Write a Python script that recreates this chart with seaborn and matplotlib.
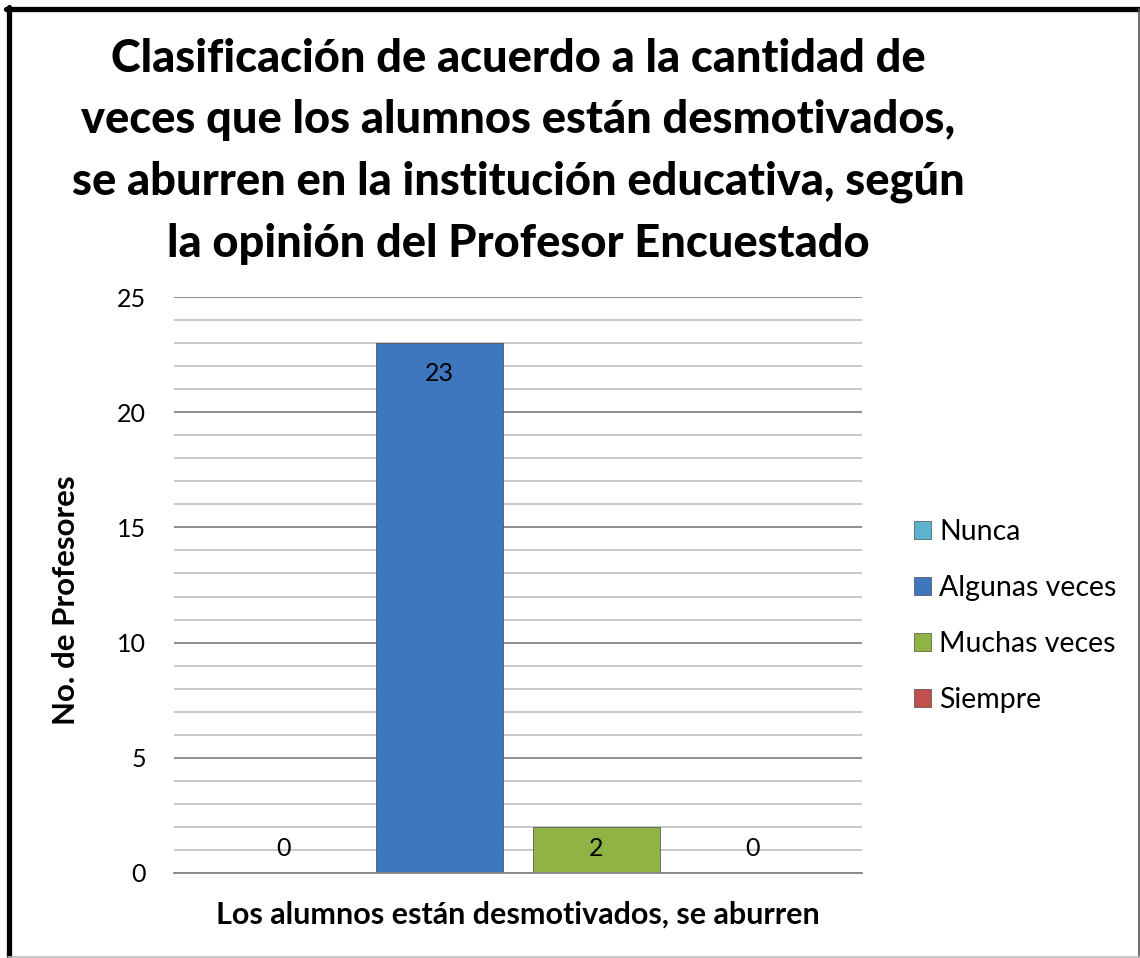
import pandas as pd
import matplotlib
matplotlib.use("Agg")
import matplotlib.pyplot as plt
import seaborn as sns
from matplotlib.ticker import MultipleLocator
from matplotlib.transforms import offset_copy
from matplotlib.lines import Line2D

# data
categoria = ["Los alumnos están desmotivados, se aburren"]
series = ["Nunca", "Algunas veces", "Muchas veces", "Siempre"]
valores = [0, 23, 2, 0]
colores = ["#5BB3CC", "#3F77BE", "#8FB443", "#C0504D"]

titulo = ("Clasificación de acuerdo a la cantidad de\n"
          "veces que los alumnos están desmotivados,\n"
          "se aburren en la institución educativa, según\n"
          "la opinión del Profesor Encuestado")

df = pd.DataFrame({"categoria": categoria * len(series), "serie": series, "valor": valores})

sns.set_style("white")
plt.rcParams["font.family"] = ["Lato", "DejaVu Sans"]
plt.rcParams["text.color"] = "black"
plt.rcParams["axes.labelcolor"] = "black"
plt.rcParams["xtick.color"] = "black"
plt.rcParams["ytick.color"] = "black"

fig = plt.figure(figsize=(11.4, 9.58), dpi=100)
ax = fig.add_axes([174 / 1140, 1 - 873 / 958, 688 / 1140, 576 / 958])

sns.barplot(data=df, x="categoria", y="valor", hue="serie", hue_order=series,
            palette=colores, saturation=1, width=0.91, gap=0.19, ax=ax,
            edgecolor="#2b2b2b", linewidth=0.4)

ax.set_ylim(0, 25)
ax.set_xlim(-0.5, 0.5)
ax.yaxis.set_major_locator(MultipleLocator(5))
ax.yaxis.set_minor_locator(MultipleLocator(1))
ax.set_axisbelow(True)
ax.grid(which="major", axis="y", color="#868686", lw=1.3)
ax.grid(which="minor", axis="y", color="#C4C4C4", lw=1.3)
for s in ["left", "right", "top"]:
    ax.spines[s].set_visible(False)
ax.spines["bottom"].set_color("#868686")
ax.spines["bottom"].set_linewidth(1.3)
ax.tick_params(axis="y", which="both", length=0, pad=20, labelsize=18)
ax.tick_params(axis="x", length=0, pad=20)
for t in ax.get_xticklabels():
    t.set_fontsize(22)
    t.set_fontweight("bold")
ax.set_xlabel("")
ax.set_ylabel("No. de Profesores", fontsize=22.5, fontweight="bold")
ax.yaxis.set_label_coords(-0.136, 0.474)

# etiquetas de datos dentro del extremo de cada barra
for cont in ax.containers:
    for p in cont.patches:
        v = p.get_height()
        xc = p.get_x() + p.get_width() / 2
        alto_px = ax.transData.transform((0, v))[1] - ax.transData.transform((0, 0))[1]
        if alto_px > 60:
            tr = offset_copy(ax.transData, fig=fig, x=0, y=-30, units="dots")
            ax.text(xc, v, f"{v:.0f}", transform=tr, ha="center", va="center", fontsize=18)
        else:
            tr = offset_copy(ax.transData, fig=fig, x=0, y=25, units="dots")
            ax.text(xc, 0, f"{v:.0f}", transform=tr, ha="center", va="center", fontsize=18)

ax.legend(loc="center left", bbox_to_anchor=(888 / 1140, 1 - 616 / 958),
          bbox_transform=fig.transFigure, frameon=False, fontsize=20.5,
          handlelength=0.6, handleheight=0.6, handletextpad=0.3, labelspacing=1.05)

fig.text(518 / 1140, 1 - 38 / 958, titulo, ha="center", va="top",
         fontsize=32.5, fontweight="black", linespacing=1.57)

# marco del gráfico
fig.add_artist(Line2D([8.5 / 1140, 8.5 / 1140], [0, 1 - 7 / 958], transform=fig.transFigure, color="black", lw=3.8))
fig.add_artist(Line2D([6 / 1140, 1], [1 - 9 / 958, 1 - 9 / 958], transform=fig.transFigure, color="black", lw=3.8))
fig.add_artist(Line2D([1138.5 / 1140, 1138.5 / 1140], [0, 1 - 9 / 958], transform=fig.transFigure, color="#555555", lw=1.2))
fig.add_artist(Line2D([8 / 1140, 1], [1 - 956.5 / 958, 1 - 956.5 / 958], transform=fig.transFigure, color="#BBBBBB", lw=1.2))

fig.savefig("out.png", dpi=100)
